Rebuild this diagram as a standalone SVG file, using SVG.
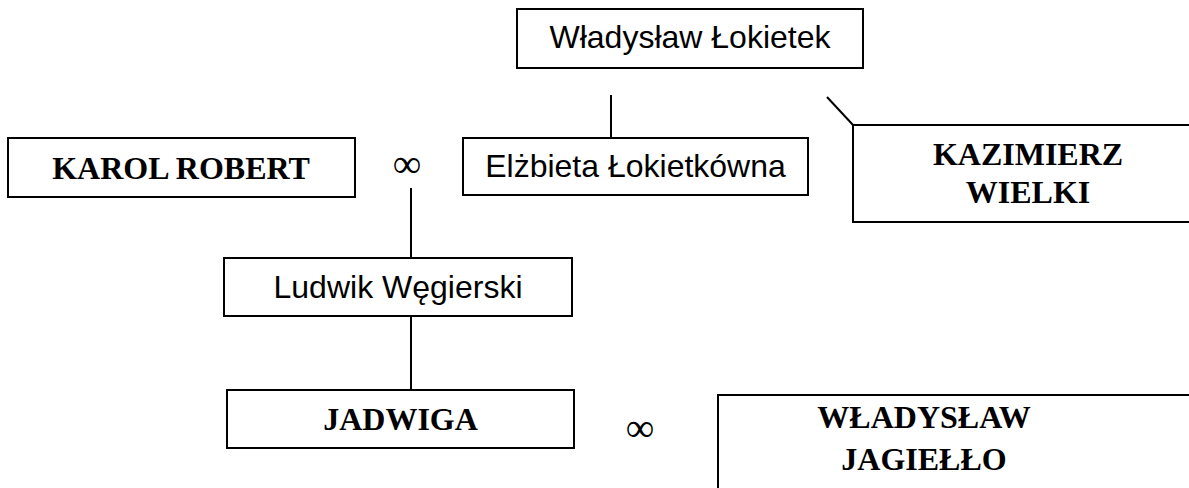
<svg xmlns="http://www.w3.org/2000/svg" width="1189" height="488" viewBox="0 0 1189 488">
<style>
.box{fill:#fff;stroke:#000;stroke-width:2}
.sans{font-family:"Liberation Sans",Arial,sans-serif;font-size:32px;fill:#000;text-anchor:middle}
.serif{font-family:"Liberation Serif","Times New Roman",serif;font-size:32px;font-weight:bold;fill:#000;text-anchor:middle}
.inf{font-family:"Liberation Serif","Times New Roman",serif;font-size:40px;fill:#000;text-anchor:middle}
.line{stroke:#000;stroke-width:2;fill:none}
</style>
<rect width="1189" height="488" fill="#fff"/>
<g id="connectors">
<line class="line" x1="611" y1="95" x2="611" y2="138"/>
<line class="line" x1="827" y1="97" x2="853" y2="125"/>
<line class="line" x1="411" y1="188" x2="411" y2="258"/>
<line class="line" x1="411" y1="316" x2="411" y2="390"/>
</g>
<g id="lokietek">
<rect class="box" x="517" y="9" width="346" height="59"/>
<text class="sans" x="690" y="48">Władysław Łokietek</text>
</g>
<g id="elzbieta">
<rect class="box" x="463" y="138" width="345" height="57"/>
<text class="sans" x="635.5" y="177">Elżbieta Łokietkówna</text>
</g>
<g id="karol">
<rect class="box" x="8" y="138" width="347" height="59"/>
<text class="serif" x="181" y="179">KAROL ROBERT</text>
</g>
<g id="marriage1">
<text class="inf" x="407" y="177">∞</text>
</g>
<g id="kazimierz">
<rect class="box" x="853" y="125" width="360" height="97"/>
<text class="serif" x="1028" y="165">KAZIMIERZ</text>
<text class="serif" x="1028" y="203">WIELKI</text>
</g>
<g id="ludwik">
<rect class="box" x="224" y="258" width="348" height="58"/>
<text class="sans" x="398" y="298">Ludwik Węgierski</text>
</g>
<g id="jadwiga">
<rect class="box" x="227" y="390" width="347" height="58"/>
<text class="serif" x="400.5" y="430">JADWIGA</text>
</g>
<g id="marriage2">
<text class="inf" x="640" y="441">∞</text>
</g>
<g id="jagiello">
<rect class="box" x="718" y="395" width="500" height="120"/>
<text class="serif" x="924" y="428">WŁADYSŁAW</text>
<text class="serif" x="924" y="470">JAGIEŁŁO</text>
</g>
</svg>
